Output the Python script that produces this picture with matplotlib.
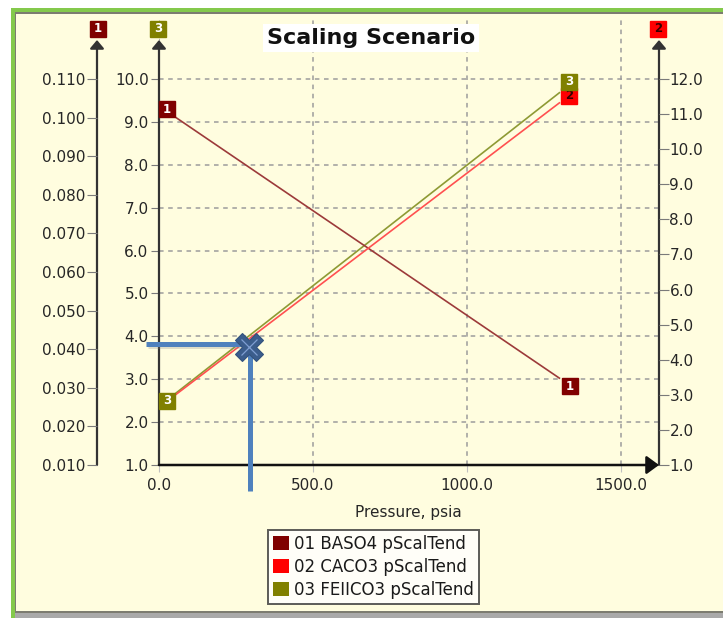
import matplotlib
matplotlib.use("Agg")

import matplotlib.pyplot as plt
from matplotlib.patches import Patch, Rectangle
from matplotlib.transforms import offset_copy

W, H = 723, 618

# Scaling tendency versus pressure, three minerals on three y scales
pressure = [14.7, 1300.0]
baso4 = [0.1022, 0.0325]     # left scale
caco3 = [2.74, 11.32]        # right scale
feiico3 = [2.45, 9.68]       # middle scale

series_names = ["01 BASO4 pScalTend", "02 CACO3 pScalTend", "03 FEIICO3 pScalTend"]
series_colors = ["#800000", "#ff0000", "#808000"]
line_colors = ["#9c3a3a", "#ff5050", "#8e9a34"]

x_ticks = [0, 500, 1000, 1500]
mid_ticks = [1, 2, 3, 4, 5, 6, 7, 8, 9, 10]
left_ticks = [0.010, 0.020, 0.030, 0.040, 0.050, 0.060, 0.070, 0.080, 0.090, 0.100, 0.110]
right_ticks = [1, 2, 3, 4, 5, 6, 7, 8, 9, 10, 11, 12]

# reading guide drawn over the chart
guide_pressure = 295.0
guide_level = 3.82
guide_left = -42.0
guide_bottom = 0.39

# plot box in pixels
AX_L, AX_R, AX_B, AX_T = 159, 658, 465, 20
PX_PER_PSI = 462 / 1500
PX_PER_MID = 386 / 9


def fx(px):
    return px / W


def fy(py):
    return 1 - py / H


fig = plt.figure(figsize=(W / 100, H / 100), dpi=100)
fig.patch.set_facecolor("white")


def frame_rect(x0, y0, x1, y1, color):
    fig.add_artist(Rectangle((fx(x0), fy(y1)), (x1 - x0) / W, (y1 - y0) / H,
                             transform=fig.transFigure, facecolor=color,
                             edgecolor="none", zorder=-5))


frame_rect(11, 8, W, H, "#84c94c")
frame_rect(15, 12, W, 613, "#7c7c70")
frame_rect(15, 613, W, H, "#a9a9a9")
frame_rect(16, 14, W, 611, "#fffddf")

ax = fig.add_axes([fx(AX_L), fy(AX_B), (AX_R - AX_L) / W, (AX_B - AX_T) / H])
ax1 = ax.twinx()
ax2 = ax.twinx()
ax.set_zorder(1)
ax1.set_zorder(2)
ax2.set_zorder(3)
for a in (ax, ax1, ax2):
    a.patch.set_visible(False)
    for s in a.spines.values():
        s.set_visible(False)

width_px = AX_R - AX_L
height_px = AX_B - AX_T
ax.set_xlim(0, width_px / PX_PER_PSI)
ax.set_ylim(1, 1 + height_px / PX_PER_MID)
ax1.set_ylim(0.010, 0.010 + height_px * 0.1 / 386)
ax2.set_ylim(1, 1 + height_px * 11 / 386)

left_pos = (97 - AX_L) / width_px
right_pos = (659 - AX_L) / width_px
ax1.spines["left"].set_position(("axes", left_pos))
ax1.yaxis.tick_left()
ax2.spines["right"].set_position(("axes", right_pos))
ax2.yaxis.tick_right()

tick_color = "#7a7a7a"
label_color = "#262626"
ax.set_xticks(x_ticks, labels=[f"{v:.1f}" for v in x_ticks])
ax.set_yticks(mid_ticks, labels=[f"{v:.1f}" for v in mid_ticks])
ax1.set_yticks(left_ticks, labels=[f"{v:.3f}" for v in left_ticks])
ax2.set_yticks(right_ticks, labels=[f"{v:.1f}" for v in right_ticks])
ax.tick_params(axis="x", length=5, color="#c0c0c0", pad=4, labelsize=11, labelcolor=label_color)
ax.tick_params(axis="y", length=6, color=tick_color, pad=1.5, labelsize=11, labelcolor=label_color)
ax1.tick_params(axis="y", length=7, color=tick_color, pad=1.5, labelsize=11, labelcolor=label_color)
ax2.tick_params(axis="y", length=7, color=tick_color, pad=0.5, labelsize=11, labelcolor=label_color)

ax.grid(True, color="#9c9c9c", linestyle=(0, (3, 3)), linewidth=1.1)
ax.set_xlabel("Pressure, psia", fontsize=11, color=label_color, labelpad=9)

# axis lines with arrow heads
tip = (AX_B - 40) / height_px
vkw = dict(arrowstyle="-|>,head_length=0.5,head_width=0.42", mutation_scale=10,
           color="#333333", lw=1.6, shrinkA=0, shrinkB=0)
for xf in (left_pos, 0.0, right_pos):
    ax.annotate("", xy=(xf, tip), xytext=(xf, 0), xycoords="axes fraction",
                arrowprops=vkw, annotation_clip=False)
hkw = dict(arrowstyle="-|>,head_length=0.75,head_width=0.55", mutation_scale=10,
           color="#111111", lw=1.8, shrinkA=0, shrinkB=0)
ax.annotate("", xy=(right_pos, 0), xytext=(0, 0), xycoords="axes fraction",
            arrowprops=hkw, annotation_clip=False)

# series
ax1.plot(pressure, baso4, color=line_colors[0], lw=1.2)
ax2.plot(pressure, caco3, color=line_colors[1], lw=1.2)
ax.plot(pressure, feiico3, color=line_colors[2], lw=1.2)


def tag(text, x, y, trans, color, txtcolor, dx=0, dy=0, z=5):
    t = offset_copy(trans, fig=fig, x=dx, y=dy, units="dots")
    ax2.plot([x], [y], marker="s", ms=11.5, color=color, mec=color,
             transform=t, clip_on=False, zorder=z)
    ax2.text(x, y, text, transform=t, color=txtcolor, fontsize=8.5,
             fontweight="bold", ha="center", va="center", zorder=z + 0.1,
             clip_on=False)


tag("1", pressure[0], baso4[0], ax1.transData, series_colors[0], "white", 3.5, 0)
tag("1", pressure[1], baso4[1], ax1.transData, series_colors[0], "white", 10.5, -8)
tag("3", pressure[0], feiico3[0], ax.transData, series_colors[2], "white", 3.5, 2)
tag("2", pressure[1], caco3[1], ax2.transData, series_colors[1], "#3a0000", 10, 7)
tag("3", pressure[1], feiico3[1], ax.transData, series_colors[2], "white", 10, 11, z=6)

# scale badges above each axis
tag("1", fx(98), fy(29), fig.transFigure, series_colors[0], "white")
tag("3", fx(158), fy(29), fig.transFigure, series_colors[2], "white")
tag("2", fx(658), fy(29), fig.transFigure, series_colors[1], "#3a0000")

ax2.text((371 - AX_L) / width_px, (AX_B - 38) / height_px, "Scaling Scenario",
         transform=ax.transAxes, fontsize=16, fontweight="bold", color="#111111",
         ha="center", va="center", zorder=8,
         bbox=dict(facecolor="white", edgecolor="none", pad=3))

# reading guide
blue = "#4f81bd"
shadow = offset_copy(ax.transData, fig=fig, x=1.5, y=-1.5, units="dots")
ax2.plot([guide_left, guide_pressure], [guide_level, guide_level], transform=shadow,
         color="#808080", alpha=0.25, lw=3.6, solid_capstyle="butt", clip_on=False, zorder=6)
ax2.plot([guide_left, guide_pressure], [guide_level, guide_level], transform=ax.transData,
         color=blue, lw=3.6, solid_capstyle="butt", clip_on=False, zorder=6.5)
ax2.plot([guide_pressure, guide_pressure], [guide_level, guide_bottom], transform=ax.transData,
         color=blue, lw=3.6, solid_capstyle="butt", clip_on=False, zorder=6.5)
ax2.plot([guide_pressure - 3], [guide_level - 0.08], marker="X", ms=20, color="#3b5d8c",
         mec="#33527d", mew=0.8, transform=ax.transData, clip_on=False, zorder=7)
ax2.plot([guide_pressure - 3], [guide_level - 0.08], marker="x", ms=11, color="#7f9fd2",
         mew=0.9, transform=ax.transData, clip_on=False, zorder=7.5)

handles = [Patch(facecolor=c, edgecolor="none") for c in series_colors]
leg = fig.legend(handles, series_names, loc="upper center",
                 bbox_to_anchor=(fx(373.5), fy(530)), frameon=True, fancybox=False,
                 fontsize=12, handlelength=0.95, handleheight=0.95, handletextpad=0.3,
                 borderpad=0.3, labelspacing=0.3, borderaxespad=0)
frame = leg.get_frame()
frame.set_facecolor("white")
frame.set_edgecolor("#333333")
frame.set_linewidth(1.4)
for t in leg.get_texts():
    t.set_color("#1a1a1a")

fig.savefig("out.png", dpi=100)
